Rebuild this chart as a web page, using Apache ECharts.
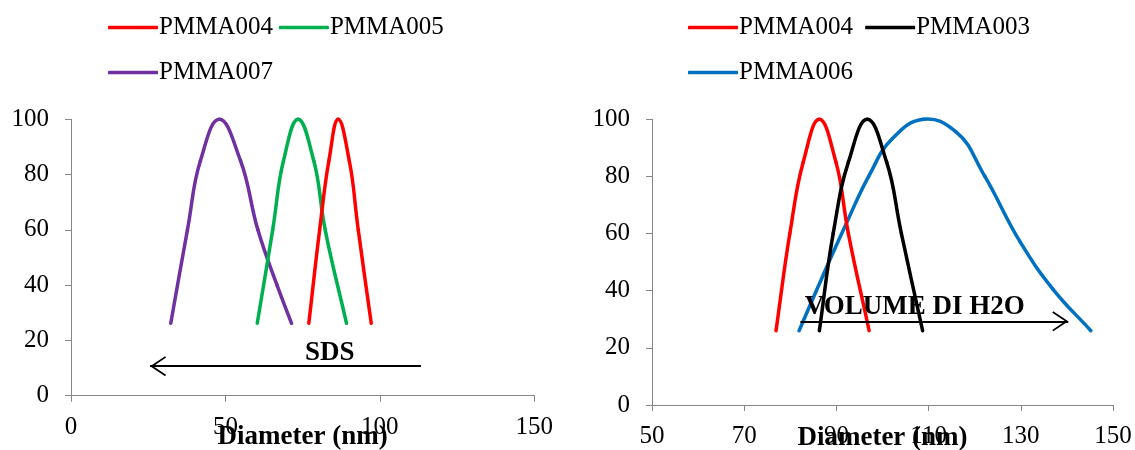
<!DOCTYPE html>
<html>
<head>
<meta charset="utf-8">
<script src="https://cdn.jsdelivr.net/npm/echarts@6/dist/echarts.min.js"></script>
<style>html,body{margin:0;padding:0;background:#fff}#c{width:1135px;height:450px}</style>
</head>
<body>
<div id="c"></div>
<script>
// ---- Data ----
// Left chart (SDS): [diameter nm, intensity]
const leftPMMA004 = [[77,26.2],[80.5,60],[83.5,85],[86.5,100],[90.1,85],[93.0,60],[97.2,26.2]];
const leftPMMA005 = [[60.3,26.2],[65.3,60],[68.8,85],[73.5,100],[78.6,85],[82.3,60],[89.2,26.2]];
const leftPMMA007 = [[32.3,26.2],[37.7,60],[41.9,85],[48,100],[54.9,85],[60.5,60],[66.7,40],[71.4,26.2]];
// Right chart (volume of H2O)
const rightPMMA004 = [[76.9,26],[79.9,60],[82.8,85],[86.3,100],[89.9,85],[92.6,60],[97.1,26]];
const rightPMMA003 = [[86.3,26],[89.3,60],[92.6,85],[96.7,100],[100.9,85],[104.1,60],[108.7,26]];
const rightPMMA006 = [[81.9,26],[87,45],[92,63],[97,80],[102,93],[108.9,100],[116,95.5],[122.2,80],[129.9,57],[137,40.5],[145.2,26]];
// Annotations
const sdsArrow = [[113.3,10.7],[25.6,10.7]];
const sdsLabel = {text:'SDS', at:[83.8,15.6]};
const h2oArrow = [[82.2,29.3],[140.3,29.3]];
const h2oLabel = {text:'VOLUME DI H2O', at:[107.0,34.2]};
// Axes
const leftX = {min:0, max:150, interval:50};
const rightX = {min:50, max:150, interval:20};
const yAxisRange = {min:0, max:100, interval:20};

const FONT = "'Liberation Serif','Times New Roman',serif";
const AX = '#868686';
const arrowPath = 'path://M10,0 L10.01,0 L10,0.01 Z M10,16 L20,31 L18.6,32 L10,19.2 L1.4,32 L0,31 Z';
const HANDLE = 1.3;

function xAxisCfg(idx, r, gap) {
  return {
    type:'value', gridIndex:idx, min:r.min, max:r.max, interval:r.interval,
    name:'Diameter (nm)', nameLocation:'middle', nameGap:gap, nameMoveOverlap:false,
    nameTextStyle:{fontFamily:FONT, fontSize:27, fontWeight:'bold', color:'#000'},
    axisLine:{show:true, lineStyle:{color:AX, width:1}},
    axisTick:{show:true, inside:false, length:6, lineStyle:{color:AX}},
    axisLabel:{fontFamily:FONT, fontSize:25, color:'#000', margin:19, hideOverlap:false},
    splitLine:{show:false}
  };
}
function yAxisCfg(idx) {
  return {
    type:'value', gridIndex:idx, min:yAxisRange.min, max:yAxisRange.max, interval:yAxisRange.interval,
    axisLine:{show:true, lineStyle:{color:AX, width:1}},
    axisTick:{show:true, inside:false, length:6, lineStyle:{color:AX}},
    axisLabel:{fontFamily:FONT, fontSize:25, color:'#000', margin:22},
    splitLine:{show:false}
  };
}

// Centripetal Catmull-Rom spline through pixel points -> bezier segments
function splineSegments(pts) {
  const n = pts.length;
  const P = (i) => {
    if (i < 0) return [2*pts[0][0]-pts[1][0], 2*pts[0][1]-pts[1][1]];
    if (i >= n) return [2*pts[n-1][0]-pts[n-2][0], 2*pts[n-1][1]-pts[n-2][1]];
    return pts[i];
  };
  const dist = (a,b) => Math.max(1e-6, Math.sqrt(Math.hypot(a[0]-b[0], a[1]-b[1])));
  const segs = [];
  for (let i = 0; i < n-1; i++) {
    const p0 = P(i-1), p1 = P(i), p2 = P(i+1), p3 = P(i+2);
    const d0 = dist(p0,p1), d1 = dist(p1,p2), d2 = dist(p2,p3);
    let b1 = [0,1].map(k => (d0*d0*p2[k] - d1*d1*p0[k] + (2*d0*d0 + 3*d0*d1 + d1*d1)*p1[k]) / (3*d0*(d0+d1)));
    let b2 = [0,1].map(k => (d2*d2*p1[k] - d1*d1*p3[k] + (2*d2*d2 + 3*d2*d1 + d1*d1)*p2[k]) / (3*d2*(d2+d1)));
    b1 = [0,1].map(k => p1[k] + (b1[k]-p1[k])*HANDLE);
    b2 = [0,1].map(k => p2[k] + (b2[k]-p2[k])*HANDLE);
    segs.push({x1:p1[0], y1:p1[1], cpx1:b1[0], cpy1:b1[1], cpx2:b2[0], cpy2:b2[1], x2:p2[0], y2:p2[1]});
  }
  return segs;
}

function curveSeries(name, data, color, idx, extra) {
  return Object.assign({
    name, type:'custom', coordinateSystem:'cartesian2d', xAxisIndex:idx, yAxisIndex:idx,
    data, itemStyle:{color}, silent:true, emphasis:{disabled:true},
    renderItem: function(params, api) {
      if (params.dataIndex !== 0) return null;
      const pix = data.map(d => api.coord(d));
      return {
        type:'group',
        children: splineSegments(pix).map(s => ({
          type:'bezierCurve', shape:s, silent:true,
          style:{stroke:color, lineWidth:3.5, fill:null, lineCap:'round', lineJoin:'round'}
        }))
      };
    }
  }, extra||{});
}
function arrowMark(a) {
  return {
    silent:true, symbol:['none', arrowPath], symbolSize:[20,32],
    lineStyle:{color:'#000', width:2, type:'solid'}, label:{show:false},
    data:[[{coord:a[0]},{coord:a[1]}]]
  };
}
function textMark(t) {
  return {
    silent:true, symbol:'circle', symbolSize:1, itemStyle:{color:'rgba(0,0,0,0)'},
    label:{show:true, position:'inside', formatter:t.text, fontFamily:FONT, fontSize:27, fontWeight:'bold', color:'#000'},
    data:[{coord:t.at}]
  };
}
function legendCfg(left, top, names) {
  return {
    left, top, data:names, icon:'roundRect', itemWidth:50, itemHeight:3.5, itemGap:6,
    textStyle:{fontFamily:FONT, fontSize:25, color:'#000', padding:[0,0,0,-4]},
    selectedMode:false
  };
}

const chart = echarts.init(document.getElementById('c'), null, {renderer:'canvas'});
chart.setOption({
  animation:false,
  backgroundColor:'#fff',
  grid:[
    {left:71, top:119.3, width:463.3, height:276.4, outerBoundsMode:'none', containLabel:false},
    {left:652, top:119.3, width:461, height:285.7, outerBoundsMode:'none', containLabel:false}
  ],
  xAxis:[xAxisCfg(0, leftX, 28), xAxisCfg(1, rightX, 19.5)],
  yAxis:[yAxisCfg(0), yAxisCfg(1)],
  legend:[
    legendCfg(103, 10, ['PMMA004','PMMA005']),
    legendCfg(103, 55, ['PMMA007']),
    legendCfg(683, 10, ['PMMA004 ','PMMA003']),
    legendCfg(683, 55, ['PMMA006'])
  ],
  series:[
    curveSeries('PMMA007', leftPMMA007, '#7030A0', 0),
    curveSeries('PMMA005', leftPMMA005, '#00B050', 0),
    curveSeries('PMMA004', leftPMMA004, '#FF0000', 0, {markLine:arrowMark(sdsArrow), markPoint:textMark(sdsLabel)}),
    curveSeries('PMMA006', rightPMMA006, '#0070C0', 1),
    curveSeries('PMMA004 ', rightPMMA004, '#FF0000', 1),
    curveSeries('PMMA003', rightPMMA003, '#000000', 1, {markLine:arrowMark(h2oArrow), markPoint:textMark(h2oLabel)})
  ]
});
</script>
</body>
</html>
